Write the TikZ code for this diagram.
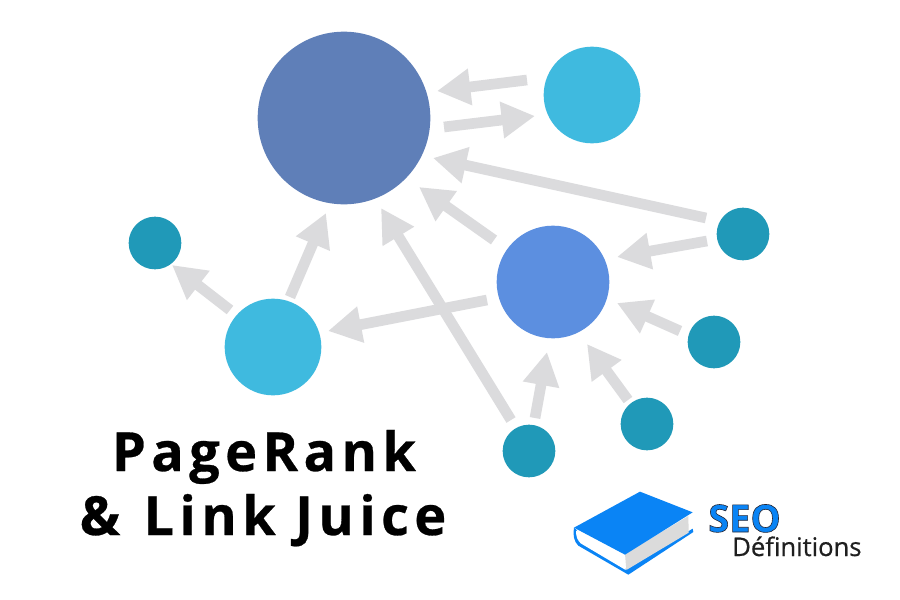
\documentclass[tikz,border=0pt]{standalone}
\usepackage{fontspec}
\setmainfont{Open Sans}
\newfontfamily\titlefont[LetterSpace=10,BoldFeatures={FakeBold=0.5}]{Open Sans}
\newfontfamily\deffont[FakeBold=0.6]{Open Sans}
\usetikzlibrary{arrows.meta}
\definecolor{bigblue}{HTML}{5F7FB8}
\definecolor{midblue}{HTML}{5C8FE0}
\definecolor{cyanblue}{HTML}{3FBADF}
\definecolor{tealblue}{HTML}{2099B8}
\definecolor{arrowgrey}{HTML}{DBDBDD}
\definecolor{bookblue}{HTML}{0A84F5}
\newcommand{\outlined}[1]{\special{pdf:code q 2 Tr 0.45 w 0.15 0.15 0.2 RG}#1\special{pdf:code Q}}
\tikzset{
  x=0.75pt,y=-0.75pt,
  dot/.style={circle,inner sep=0pt,outer sep=0pt,draw=none},
  big/.style={dot,fill=bigblue,minimum size=129.5pt},
  mid/.style={dot,fill=midblue,minimum size=84.5pt},
  cy/.style={dot,fill=cyanblue,minimum size=72.5pt},
  small/.style={dot,fill=tealblue,minimum size=39.5pt},
  link/.style={draw=arrowgrey,line width=8pt,-{Triangle[length=25pt,width=26pt]}},
  titletext/.style={font=\titlefont\bfseries\fontsize{40.5}{48}\selectfont,text=black,inner sep=0pt,anchor=base},
}
\begin{document}
\begin{tikzpicture}
\useasboundingbox (0,0) rectangle (900,600);
\fill[white] (0,0) rectangle (900,600);
% arrow ends
\coordinate (a1s) at (527,80);  \coordinate (a1e) at (437,91);
\coordinate (a2s) at (444,127); \coordinate (a2e) at (535,116);
\coordinate (a3s) at (706,218); \coordinate (a3e) at (433,158);
\coordinate (a4s) at (494,240); \coordinate (a4e) at (419,187);
\coordinate (a5s) at (707,241); \coordinate (a5e) at (617,257);
\coordinate (a6s) at (680,331); \coordinate (a6e) at (617,303);
\coordinate (a7s) at (628,400); \coordinate (a7e) at (587,344);
\coordinate (a8s) at (535,418); \coordinate (a8e) at (547,352);
\coordinate (a9s) at (511,420); \coordinate (a9e) at (381,208);
\coordinate (a10s) at (487,300); \coordinate (a10e) at (328,331);
\coordinate (a11s) at (290,297); \coordinate (a11e) at (326,213);
\coordinate (a12s) at (230,310); \coordinate (a12e) at (172,265);
\foreach \i in {1,...,12}{\draw[link] (a\i s) -- (a\i e);}
% circles
\node[big] (hub) at (344,118) {};
\node[cy] (topright) at (592,95) {};
\node[cy] (left) at (273,347) {};
\node[mid] (centre) at (553,282) {};
\node[small] (farleft) at (155,243) {};
\node[small] (r1) at (743,234) {};
\node[small] (r2) at (714,342) {};
\node[small] (r3) at (647,424) {};
\node[small] (r4) at (529,451) {};
% title
\node[titletext] (t1) at (264,471) {PageRank};
\node[titletext] (t2) at (263,535) {\&\hspace{3pt} Link Juice};
% book
\begin{scope}[shift={(560,480)},x=0.25pt,y=-0.25pt]
\fill[bookblue] (42,143) .. controls (38,165) and (42,185) .. (55,197) -- (205,284) -- (400,156) -- (398,146) -- (200,268) -- (60,185) -- (50,150) -- cycle;
\fill[white] (48,152) -- (195,224) -- (197,270) -- (62,190) .. controls (52,180) and (48,170) .. (48,152) -- cycle;
\fill[black!14] (195,222) -- (385,108) -- (386,158) -- (199,270) -- cycle;
\fill[bookblue] (240,35) -- (398,97) -- (195,224) -- (42,143) -- cycle;
\end{scope}
% logo text
\node[font=\bfseries\fontsize{28.5}{36}\selectfont,text=bookblue,inner sep=0pt,anchor=base west] (seo) at (708,532) {\outlined{SEO}};
\node[font=\deffont\fontsize{19.2}{24}\selectfont,text=black!88,inner sep=0pt,anchor=base west] (def) at (732,556) {Définitions};
\end{tikzpicture}
\end{document}
